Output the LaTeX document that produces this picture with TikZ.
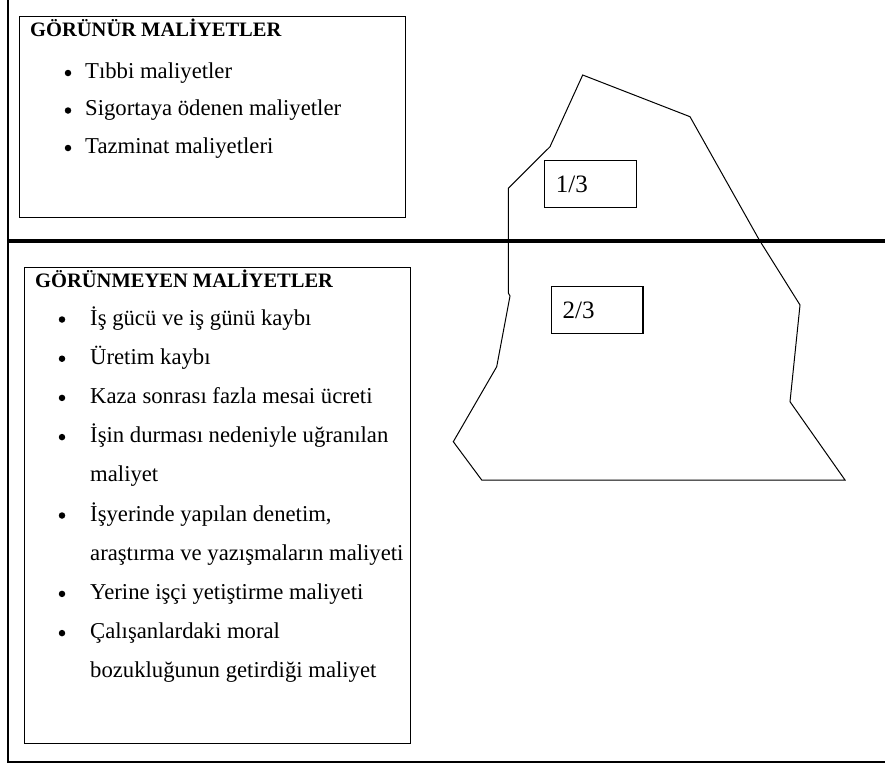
\documentclass[tikz,border=0pt]{standalone}
\usepackage{fontspec}
\setmainfont{Liberation Serif}
\usetikzlibrary{positioning}

\begin{document}
\begin{tikzpicture}[x=1pt,y=-1pt,line join=miter,
  panel/.style={draw,line width=1.1pt,anchor=north west,inner sep=0pt},
  heading/.style={anchor=base west,inner sep=0pt,font=\fontsize{20.5}{24}\selectfont\bfseries},
  entry/.style={anchor=base west,inner sep=0pt,font=\fontsize{22.7}{26}\selectfont},
  dot/.style={circle,fill,inner sep=0pt,minimum size=6.5pt},
  share/.style={draw,line width=1.1pt,anchor=north west,minimum width=91.7pt,minimum height=47.3pt,
    text width=69pt,inner xsep=11pt,align=left,font=\fontsize{25}{29}\selectfont}]
\useasboundingbox (0,0) rectangle (885,766);
\draw[line width=1.6pt] (8,0) -- (8,762) -- (885,762);
\draw[line width=4.5pt] (8,241) -- (885,241);
\node[panel,minimum width=386pt,minimum height=201pt] (visible) at (19,16) {};
\node[heading] (visibletitle) at (30,36) {GÖRÜNÜR MALİYETLER};
\foreach \txt [count=\i] in {Tıbbi maliyetler,Sigortaya ödenen maliyetler,Tazminat maliyetleri}{
  \node[entry] (v\i) at (85,{78+37.5*(\i-1)}) {\txt};
  \node[dot] (vd\i) at ([xshift=-17pt,yshift=5pt]v\i.base west) {};
}
\node[panel,minimum width=386pt,minimum height=476pt] (hidden) at (24,267) {};
\node[heading] (hiddentitle) at (35,287) {GÖRÜNMEYEN MALİYETLER};
\foreach \b/\txt [count=\i] in {1/İş gücü ve iş günü kaybı,1/Üretim kaybı,1/Kaza sonrası fazla mesai ücreti,
  1/İşin durması nedeniyle uğranılan,0/maliyet,{1/İşyerinde yapılan denetim,},
  0/araştırma ve yazışmaların maliyeti,1/Yerine işçi yetiştirme maliyeti,1/Çalışanlardaki moral,
  0/bozukluğunun getirdiği maliyet}{
  \node[entry] (h\i) at (90,{325+39.2*(\i-1)}) {\txt};
  \ifnum\b=1 \node[dot] (hd\i) at ([xshift=-28pt,yshift=5.5pt]h\i.base west) {};\fi
}
\draw[line width=1pt] (582.7,75) -- (550,146.7) -- (508.3,188.3) -- (508.3,293) -- (510,296)
  -- (496.7,366.7) -- (453.3,441.7) -- (481.7,480) -- (845,480) -- (790,401.7) -- (800,305)
  -- (759.3,240) -- (690,116.7) -- cycle;
\node[share] (above) at (544,160) {1/3};
\node[share] (below) at (550.7,285.7) {2/3};
\end{tikzpicture}
\end{document}
